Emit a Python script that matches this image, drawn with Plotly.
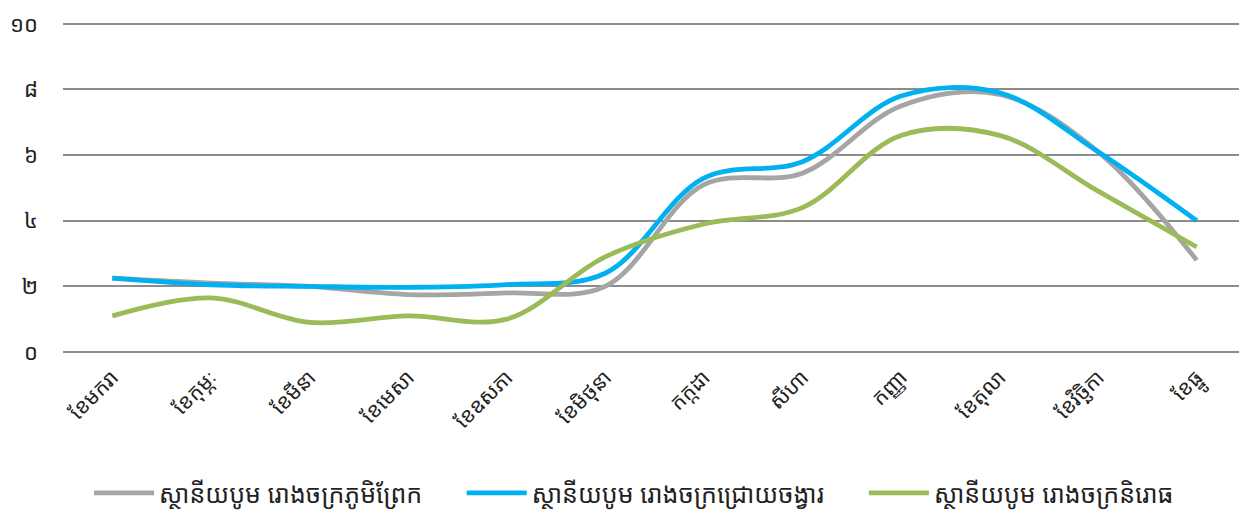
import plotly.graph_objects as go

months = ["ខែមករា", "ខែកុម្ភៈ", "ខែមីនា", "ខែមេសា", "ខែឧសភា", "ខែមិថុនា",
          "កក្កដា", "សីហា", "កញ្ញា", "ខែតុលា", "ខែវិច្ឆិកា", "ខែធ្នូ"]

phum_preak = [2.25, 2.1, 2.0, 1.75, 1.8, 2.0, 5.1, 5.45, 7.5, 7.85, 6.1, 2.8]
chroy_changvar = [2.25, 2.05, 2.0, 1.97, 2.05, 2.4, 5.3, 5.8, 7.8, 7.9, 6.1, 4.0]
nirodh = [1.1, 1.65, 0.9, 1.1, 1.0, 2.9, 3.9, 4.4, 6.6, 6.6, 4.9, 3.2]

series_names = ["ស្ថានីយបូម រោងចក្រភូមិព្រែក",
                "ស្ថានីយបូម រោងចក្រជ្រោយចង្វារ",
                "ស្ថានីយបូម រោងចក្រនិរោធ"]
colors = ["#A5A5A5", "#00B0F0", "#9BBB59"]

ytick_vals = [0, 2, 4, 6, 8, 10]
ytick_text = ["០", "២", "៤", "៦", "៨", "១០"]

font_family = "Noto Sans Khmer, Khmer OS, Noto Sans, DejaVu Sans"

fig = go.Figure()
legend_ids = ["legend", "legend2", "legend3"]
for name, vals, c, lg in zip(series_names, [phum_preak, chroy_changvar, nirodh],
                             colors, legend_ids):
    fig.add_trace(go.Scatter(
        x=months, y=vals, name=name, mode="lines", legend=lg,
        line=dict(color=c, width=4.8, shape="spline", smoothing=1.0),
    ))


def legend_box(x):
    return dict(orientation="h", x=x, xanchor="left",
                y=0.047, yanchor="middle", yref="container",
                font=dict(size=25, color="#222"), itemwidth=60,
                bgcolor="rgba(0,0,0,0)")


# the page body adds an 8px margin, so the figure is sized and offset for it
fig.update_layout(
    width=1240, height=509,
    margin=dict(l=55, r=2, t=6, b=165, autoexpand=False),
    plot_bgcolor="white", paper_bgcolor="white",
    font=dict(family=font_family, color="#222"),
    legend=legend_box(0.022),
    legend2=legend_box(0.337),
    legend3=legend_box(0.677),
    showlegend=True,
)
fig.update_xaxes(tickangle=-45, tickfont=dict(size=21), showgrid=False,
                 showline=False, ticks="", range=[-0.5, 11.5], automargin=False,
                 ticklabelstandoff=8)
fig.update_yaxes(range=[0, 10.3], tickvals=ytick_vals, ticktext=ytick_text,
                 tickfont=dict(size=22), gridcolor="#8C8C8C", gridwidth=1.6,
                 zeroline=True, zerolinecolor="#8C8C8C", zerolinewidth=1.6,
                 showline=False, ticks="", ticklabelstandoff=24, automargin=False,
                 ticklabeloverflow="allow")

fig.write_html("out.html")
